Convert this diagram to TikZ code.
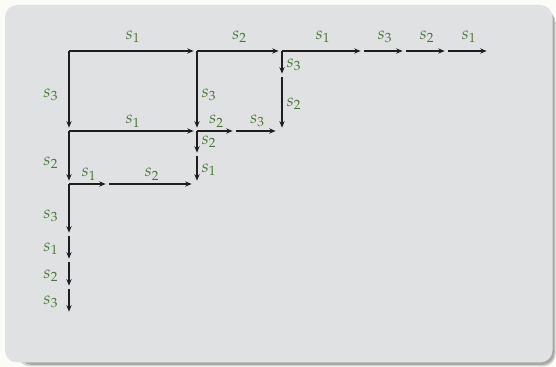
\documentclass[tikz,border=0pt]{standalone}
\usepackage{mathpazo}
\usetikzlibrary{arrows.meta}
\definecolor{pagebg}{RGB}{251,252,247}
\definecolor{blockbg}{RGB}{224,225,227}
\definecolor{labgreen}{RGB}{76,118,56}
\definecolor{arrowcol}{RGB}{30,30,32}
\tikzset{
  mv/.style={draw=arrowcol, line width=1.1pt, -{Stealth[length=4.2pt,width=3.4pt]}},
  mvgap/.style={mv, shorten >=2.2pt},
  lab/.style={text=labgreen, font=\fontsize{11.5pt}{13pt}\selectfont, inner sep=1pt},
  labL/.style={lab, left=5.5pt},
  labR/.style={lab, right=1.5pt},
  labA/.style={lab, above=1pt},
}
\begin{document}
\begin{tikzpicture}[x=0.654pt, y=-0.654pt]
  \useasboundingbox (0,0) rectangle (556,367);
  \fill[pagebg] (0,0) rectangle (556,367);
  % block shadow and block body
  \fill[black!45, opacity=0.35, rounded corners=8pt] (18,10) rectangle (555.5,366.5);
  \fill[black!55, opacity=0.45, rounded corners=8pt] (20,10) rectangle (554.5,365);
  \fill[blockbg, rounded corners=8pt] (5,5) rectangle (552.5,362.5);

  % grid points
  \coordinate (a0) at (69,51);
  \coordinate (a1) at (197,51);
  \coordinate (a2) at (282,51);
  \coordinate (a3) at (364,51);
  \coordinate (a4) at (406,51);
  \coordinate (a5) at (448,51);
  \coordinate (a6) at (490,51);
  \coordinate (c1) at (282,77);
  \coordinate (c2) at (282,131);
  \coordinate (b0) at (69,131);
  \coordinate (b1) at (197,131);
  \coordinate (b2) at (236,131);
  \coordinate (b3) at (279,131);
  \coordinate (d1) at (197,156);
  \coordinate (d2) at (197,184);
  \coordinate (e0) at (69,184);
  \coordinate (e1) at (109,184);
  \coordinate (e2) at (195,184);
  \coordinate (f1) at (69,236);
  \coordinate (f2) at (69,262);
  \coordinate (f3) at (69,289);
  \coordinate (f4) at (69,315);

  % top row
  \draw[mvgap] (a0) -- node[labA, yshift=3pt] {$s_1$} (a1);
  \draw[mvgap] (a1) -- node[labA, yshift=3pt] {$s_2$} (a2);
  \draw[mvgap] (a2) -- node[labA, yshift=3pt] {$s_1$} (a3);
  \draw[mvgap] (a3) -- node[labA, yshift=3pt] {$s_3$} (a4);
  \draw[mvgap] (a4) -- node[labA, yshift=3pt] {$s_2$} (a5);
  \draw[mvgap] (a5) -- node[labA, yshift=3pt] {$s_1$} (a6);

  % third column
  \draw[mvgap] (a2) -- node[labR, pos=0.55] {$s_3$} (c1);
  \draw[mvgap] (c1) -- node[labR, pos=0.5] {$s_2$} (c2);

  % left column
  \draw[mvgap] (a0) -- node[labL, pos=0.55] {$s_3$} (b0);
  \draw[mvgap] (b0) -- node[labL, pos=0.6] {$s_2$} (e0);
  \draw[mvgap] (e0) -- node[labL, pos=0.62] {$s_3$} (f1);
  \draw[mvgap] (f1) -- node[labL, pos=0.5] {$s_1$} (f2);
  \draw[mvgap] (f2) -- node[labL, pos=0.5] {$s_2$} (f3);
  \draw[mvgap] (f3) -- node[labL, pos=0.5] {$s_3$} (f4);

  % second row
  \draw[mvgap] (b0) -- node[labA] {$s_1$} (b1);
  \draw[mvgap] (b1) -- node[labA] {$s_2$} (b2);
  \draw[mvgap] (b2) -- node[labA] {$s_3$} (b3);

  % middle column
  \draw[mvgap] (a1) -- node[labR, pos=0.55] {$s_3$} (b1);
  \draw[mvgap] (b1) -- node[labR, pos=0.45] {$s_2$} (d1);
  \draw[mvgap] (d1) -- node[labR, pos=0.5] {$s_1$} (d2);

  % third row
  \draw[mvgap] (e0) -- node[labA] {$s_1$} (e1);
  \draw[mvgap] (e1) -- node[labA] {$s_2$} (e2);
\end{tikzpicture}
\end{document}
